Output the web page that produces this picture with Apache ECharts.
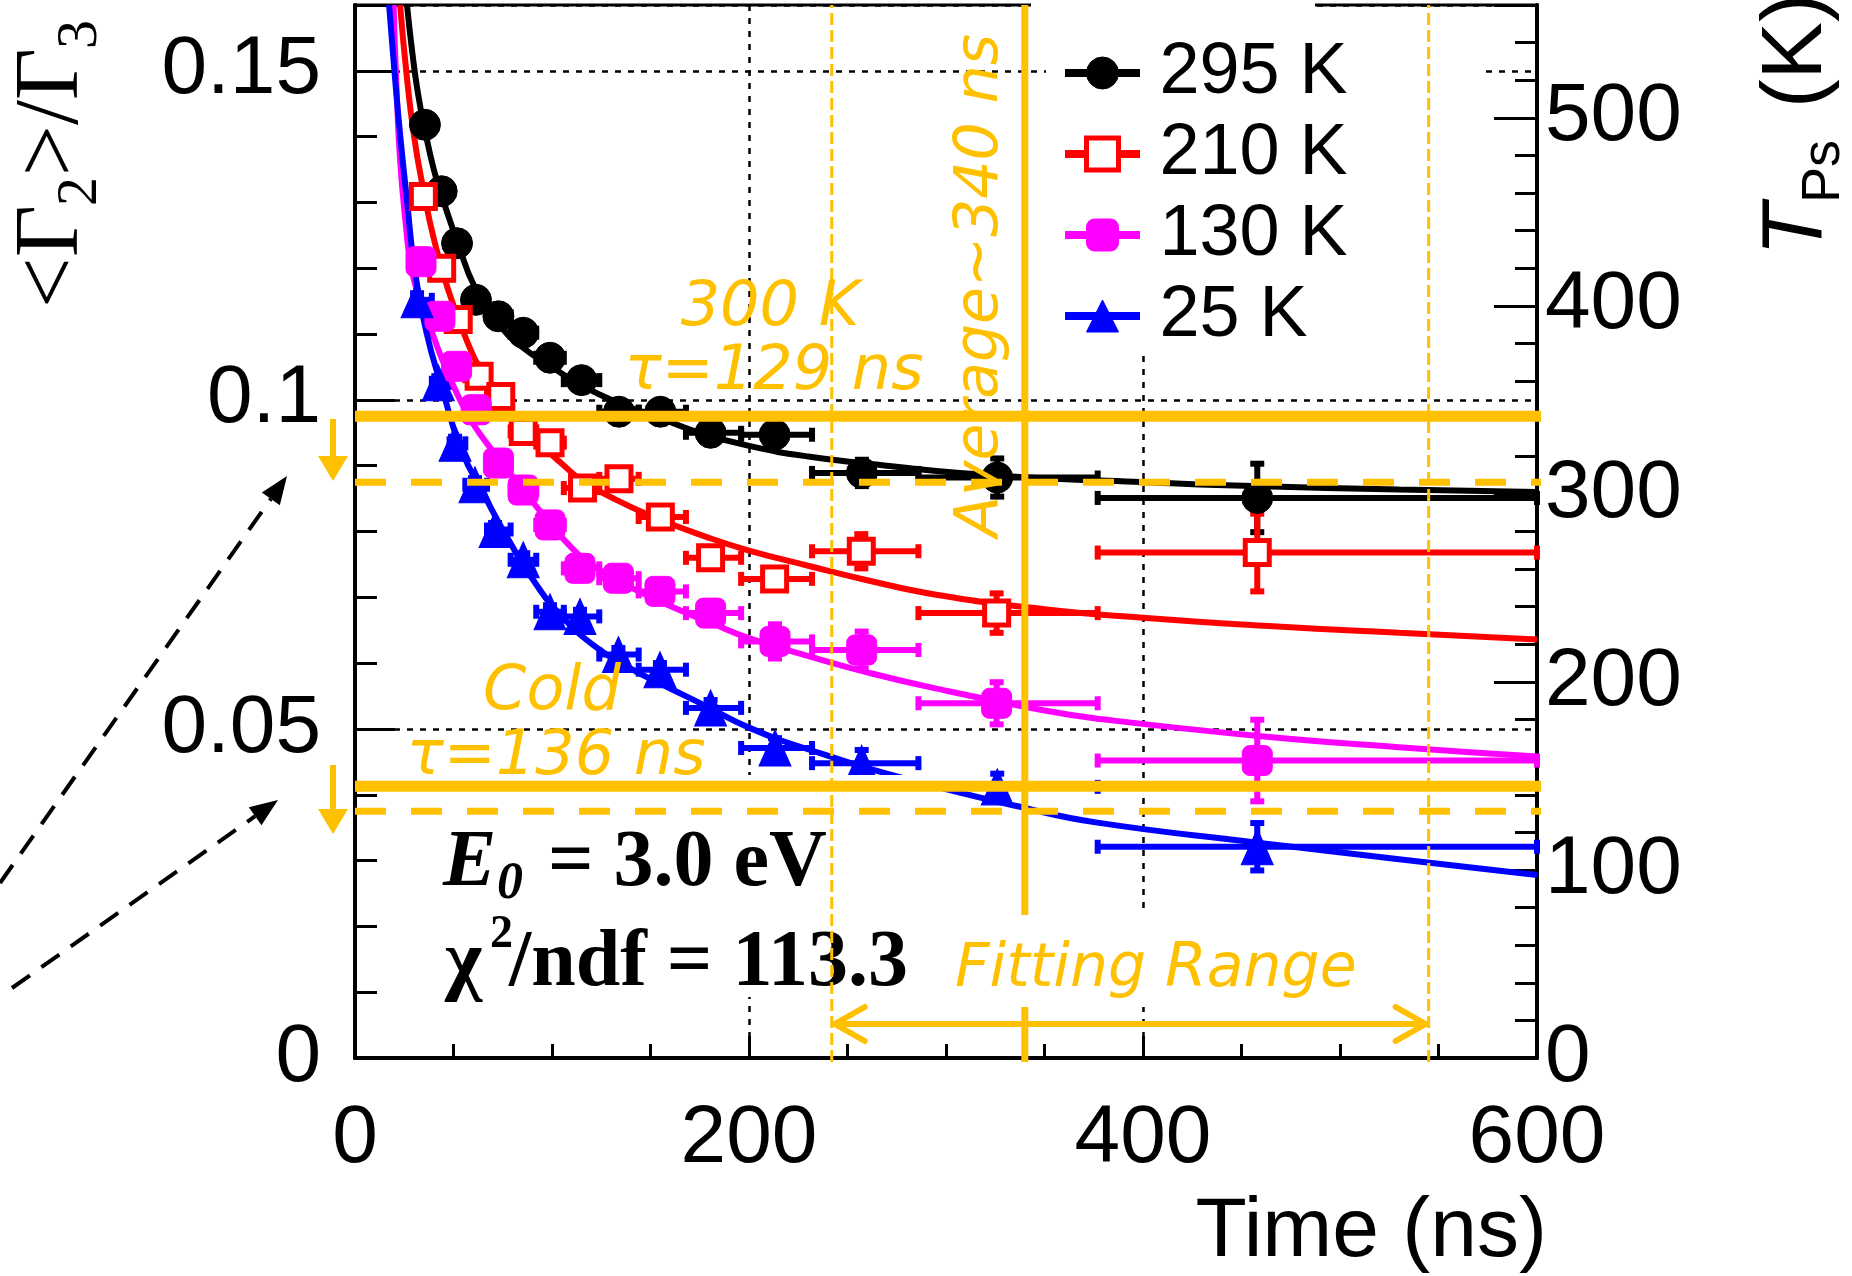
<!DOCTYPE html>
<html>
<head>
<meta charset="utf-8">
<title>Ps temperature vs time</title>
<script src="https://cdn.jsdelivr.net/npm/echarts@6.0.0/dist/echarts.min.js"></script>
<style>
  html, body { margin: 0; padding: 0; background: #ffffff; }
  #chart { width: 1852px; height: 1276px; }
</style>
</head>
<body>
<div id="chart"></div>
<script>
// time bins (ns), shared by every temperature
const binLow  = [31, 39, 48, 56, 67, 79, 92, 106, 124, 144, 168, 196, 232, 286, 377];
const binHigh = [39, 48, 56, 67, 79, 92, 106, 124, 144, 168, 196, 232, 286, 377, 600];

// measured <G2>/G3, one array per target temperature
const t295 = [35.5, 44, 51.8, 61.4, 72.8, 85.4, 99, 115, 134, 155, 180.5, 213, 257.3, 326, 458];
const y295 = [0.1418, 0.1317, 0.1238, 0.1152, 0.1127, 0.1102, 0.1064, 0.1030, 0.0982, 0.0982, 0.0950, 0.0947, 0.0889, 0.0882, 0.0851];
const e295 = [0.001, 0.001, 0.001, 0.001, 0.001, 0.001, 0.001, 0.001, 0.001, 0.001, 0.0012, 0.0015, 0.002, 0.0029, 0.0052];

const t210 = [34.7, 44, 52.4, 63, 74, 85.4, 99, 115.5, 134, 155, 180.5, 213, 257, 325.7, 458];
const y210 = [0.1309, 0.1200, 0.1122, 0.1036, 0.1005, 0.0952, 0.0935, 0.0866, 0.0880, 0.0822, 0.0760, 0.0728, 0.0770, 0.0676, 0.0768];
const e210 = [0.001, 0.001, 0.001, 0.001, 0.001, 0.001, 0.001, 0.001, 0.001, 0.0012, 0.0012, 0.0015, 0.0026, 0.003, 0.0059];

const t130 = [33.5, 43.1, 51.6, 61.5, 72.8, 85.4, 99, 114.2, 133.7, 154.8, 180.5, 213.2, 257.2, 325.7, 458];
const y130 = [0.1210, 0.1127, 0.1051, 0.0985, 0.0904, 0.0863, 0.0810, 0.0744, 0.0729, 0.0709, 0.0676, 0.0633, 0.0620, 0.0539, 0.0452];
const e130 = [0.001, 0.001, 0.001, 0.001, 0.001, 0.001, 0.001, 0.001, 0.001, 0.0012, 0.0015, 0.0026, 0.0028, 0.0032, 0.0062];

const t25 = [31.5, 42.3, 50.8, 60.9, 71.1, 85.4, 99, 114.2, 133.7, 154.8, 180.5, 213.2, 257.2, 326, 458];
const y25 = [0.1152, 0.1026, 0.0934, 0.0871, 0.0803, 0.0757, 0.0678, 0.0671, 0.0613, 0.0590, 0.0532, 0.0471, 0.0448, 0.0412, 0.0321];
const e25 = [0.001, 0.001, 0.001, 0.001, 0.001, 0.001, 0.001, 0.001, 0.001, 0.001, 0.0012, 0.0015, 0.002, 0.002, 0.0036];

// fitted curves
const fitT295 = [26.4, 29, 32, 35.5, 40, 44, 52, 61, 73, 85, 99, 115, 134, 155, 175, 200, 230, 276, 307, 350, 400, 456, 530, 600];
const fit295  = [0.160, 0.153, 0.1465, 0.1410, 0.1350, 0.1310, 0.1240, 0.1170, 0.1115, 0.1080, 0.1052, 0.1022, 0.0995, 0.0972, 0.0950, 0.0930, 0.0914, 0.0898, 0.0889, 0.0881, 0.0875, 0.0869, 0.0864, 0.0860];

const fitT210 = [22.9, 26, 30, 35, 40, 47, 57, 65, 75, 85, 95, 105, 115, 130, 150, 180, 200, 230, 260, 295, 350, 400, 466, 530, 600];
const fit210  = [0.160, 0.150, 0.140, 0.1315, 0.1245, 0.1170, 0.1088, 0.1040, 0.0995, 0.0960, 0.0930, 0.0903, 0.0878, 0.0852, 0.0824, 0.0790, 0.0771, 0.0748, 0.0726, 0.0704, 0.0682, 0.0669, 0.0656, 0.0646, 0.0636];

const fitT130 = [19.6, 21, 23, 26, 28, 31, 35.5, 40, 45.7, 55.8, 63, 76, 91, 110, 125, 142, 162, 180, 200, 231, 260, 294, 350, 376, 456, 530, 600];
const fit130  = [0.160, 0.148, 0.136, 0.126, 0.121, 0.117, 0.1132, 0.1095, 0.1051, 0.0985, 0.0950, 0.0899, 0.0842, 0.0775, 0.0740, 0.0712, 0.0684, 0.0662, 0.0638, 0.0610, 0.0586, 0.0562, 0.0528, 0.0516, 0.0490, 0.0472, 0.0458];

const fitT25 = [17.3, 20, 23, 26.5, 30, 36.4, 44, 54, 66, 78, 91.4, 105, 122, 139, 161, 178, 200, 231, 280, 340, 376, 456, 530, 600];
const fit25  = [0.160, 0.150, 0.140, 0.130, 0.1205, 0.1101, 0.1020, 0.0924, 0.0853, 0.0787, 0.0722, 0.0671, 0.0625, 0.0593, 0.0560, 0.0535, 0.0502, 0.0468, 0.0424, 0.0380, 0.0358, 0.0328, 0.0302, 0.0278];

// orange guide lines
const tauLevels = [0.0975, 0.0413];     // solid
const startLevels = [0.0875, 0.0375];   // dashed
const fitRange = [242, 545];
const avgTime = [340];

const ORANGE = '#ffc000';
const SANS = '"Liberation Sans", Arial, sans-serif';
const SERIF = '"Liberation Serif", "Times New Roman", serif';
const VERA = '"DejaVu Sans", Verdana, sans-serif';

const pairs = (xs, ys) => xs.map((x, i) => [x, ys[i]]);

function errorBars(color, t, y, e) {
    return {
        type: 'custom',
        silent: true,
        z: 2,
        data: t.map((tv, i) => [tv, y[i], binLow[i], binHigh[i], e[i]]),
        encode: {x: 0, y: 1},
        renderItem: function (params, api) {
            const tv = api.value(0), yv = api.value(1), ev = api.value(4);
            const lo = api.coord([api.value(2), yv]);
            const hi = api.coord([api.value(3), yv]);
            const top = api.coord([tv, yv + ev]);
            const bot = api.coord([tv, yv - ev]);
            const st = {stroke: color, lineWidth: 6, fill: null};
            const c = 7;
            return {
                type: 'group', children: [
                    {type: 'line', shape: {x1: lo[0], y1: lo[1], x2: hi[0], y2: hi[1]}, style: st},
                    {type: 'line', shape: {x1: lo[0], y1: lo[1] - c, x2: lo[0], y2: lo[1] + c}, style: st},
                    {type: 'line', shape: {x1: hi[0], y1: hi[1] - c, x2: hi[0], y2: hi[1] + c}, style: st},
                    {type: 'line', shape: {x1: top[0], y1: top[1], x2: bot[0], y2: bot[1]}, style: st},
                    {type: 'line', shape: {x1: top[0] - c, y1: top[1], x2: top[0] + c, y2: top[1]}, style: st},
                    {type: 'line', shape: {x1: bot[0] - c, y1: bot[1], x2: bot[0] + c, y2: bot[1]}, style: st}
                ]
            };
        }
    };
}

const groups = [
    {name: '295 K', color: '#000000', t: t295, y: y295, e: e295, ft: fitT295, fy: fit295,
        symbol: 'circle', size: 31, item: {color: '#000000', borderColor: '#000000', borderWidth: 1, opacity: 1}},
    {name: '210 K', color: '#ff0000', t: t210, y: y210, e: e210, ft: fitT210, fy: fit210,
        symbol: 'rect', size: 24, item: {color: '#ffffff', borderColor: '#ff0000', borderWidth: 5, opacity: 1}},
    {name: '130 K', color: '#ff00ff', t: t130, y: y130, e: e130, ft: fitT130, fy: fit130,
        symbol: 'roundRect', size: 30, item: {color: '#ff00ff', borderColor: '#ff00ff', borderWidth: 1, opacity: 1}},
    {name: '25 K', color: '#0000ff', t: t25, y: y25, e: e25, ft: fitT25, fy: fit25,
        symbol: 'triangle', size: [32, 36], item: {color: '#0000ff', borderColor: '#0000ff', borderWidth: 1, opacity: 1}}
];

const series = [];
groups.forEach(function (g) {
    series.push({
        type: 'line', name: g.name, data: pairs(g.ft, g.fy),
        smooth: 0.5, showSymbol: false, symbol: g.symbol,
        lineStyle: {color: g.color, width: 6}, itemStyle: g.item, z: 2, silent: true
    });
    series.push(errorBars(g.color, g.t, g.y, g.e));
    series.push({
        type: 'scatter', name: g.name + ' data', data: pairs(g.t, g.y),
        symbol: g.symbol, symbolSize: g.size, itemStyle: g.item, z: 3, silent: true
    });
});

function hLines(levels, width, dash) {
    return {
        type: 'custom', silent: true, z: 10,
        data: levels.map(v => [v]),
        renderItem: function (params, api) {
            const v = api.value(0);
            const a = api.coord([0, v]);
            const b = api.coord([600, v]);
            return {type: 'line', shape: {x1: a[0], y1: a[1], x2: b[0] + 4, y2: b[1]},
                style: {stroke: ORANGE, lineWidth: width, lineDash: dash, fill: null}};
        }
    };
}

function vLines(times, width, dash, z) {
    return {
        type: 'custom', silent: true, z: z,
        data: times.map(v => [v]),
        renderItem: function (params, api) {
            const v = api.value(0);
            const a = api.coord([v, 0]);
            const b = api.coord([v, 0.16]);
            return {type: 'line', shape: {x1: a[0], y1: a[1] + 4, x2: b[0], y2: b[1]},
                style: {stroke: ORANGE, lineWidth: width, lineDash: dash, fill: null}};
        }
    };
}

series.push(hLines(tauLevels, 11, null));
series.push(hLines(startLevels, 7, [31, 25]));
series.push(vLines(avgTime, 7, null, 3));
series.push(vLines(fitRange, 3, [12, 5], 10));

// double arrow of the fitting range
series.push({
    type: 'custom', silent: true, z: 10,
    data: [fitRange],
    renderItem: function (params, api) {
        const a = api.coord([api.value(0), 0]);
        const b = api.coord([api.value(1), 0]);
        const y = a[1] - 34;
        const st = {stroke: ORANGE, lineWidth: 6, fill: null, lineJoin: 'round', lineCap: 'round'};
        return {
            type: 'group', children: [
                {type: 'line', shape: {x1: a[0] + 3, y1: y, x2: b[0] - 3, y2: y}, style: st},
                {type: 'polyline', shape: {points: [[a[0] + 33, y - 17], [a[0] + 3, y], [a[0] + 33, y + 17]]}, style: st},
                {type: 'polyline', shape: {points: [[b[0] - 33, y - 17], [b[0] - 3, y], [b[0] - 33, y + 17]]}, style: st}
            ]
        };
    }
});

// dashed black pointer arrows left of the frame
function pointer(x0, y0, x1, y1) {
    const len = Math.hypot(x1 - x0, y1 - y0);
    const ux = (x1 - x0) / len, uy = (y1 - y0) / len;
    const bx = x1 - 28 * ux, by = y1 - 28 * uy;
    return [
        {type: 'line', z: 20, shape: {x1: x0, y1: y0, x2: bx, y2: by},
            style: {stroke: '#000', lineWidth: 4, lineDash: [22, 14]}},
        {type: 'polygon', z: 20, shape: {points: [[x1, y1], [bx - 11 * uy, by + 11 * ux], [bx + 11 * uy, by - 11 * ux]]},
            style: {fill: '#000'}}
    ];
}

function dropArrow(x, y0, y1) {
    return [
        {type: 'line', z: 20, shape: {x1: x, y1: y0, x2: x, y2: y1 - 20}, style: {stroke: ORANGE, lineWidth: 6}},
        {type: 'polygon', z: 20, shape: {points: [[x - 15, y1 - 25], [x + 15, y1 - 25], [x, y1]]}, style: {fill: ORANGE}}
    ];
}

function txt(x, y, text, size, extra) {
    return {type: 'text', x: x, y: y, z: 8, silent: true,
        style: Object.assign({text: text, fontSize: size, fontFamily: SANS, fill: '#000',
            textAlign: 'left', textVerticalAlign: 'middle'}, extra || {})};
}

const graphics = [
    // white pads behind the text boxes and legend
    {type: 'rect', z: 5, shape: {x: 440, y: 775, width: 495, height: 222}, style: {fill: '#fff'}},
    {type: 'rect', z: 5, shape: {x: 950, y: 915, width: 410, height: 92}, style: {fill: '#fff'}},
    {type: 'rect', z: 5, shape: {x: 1046, y: 14, width: 435, height: 341}, style: {fill: '#fff'}},
    {type: 'rect', z: 5, shape: {x: 1031, y: 0, width: 284, height: 14}, style: {fill: '#fff'}},

    // left title <G2>/G3
    {type: 'group', x: 53, y: 308, rotation: Math.PI / 2, children: [
        txt(0, 0, '<', 90, {fontFamily: SERIF}),
        txt(51, 0, 'Γ', 90, {fontFamily: SERIF}),
        txt(102, 28, '2', 58, {fontFamily: SERIF}),
        txt(132, 0, '>', 90, {fontFamily: SERIF}),
        txt(183, 0, '/', 90, {fontFamily: SERIF}),
        txt(208, 0, 'Γ', 90, {fontFamily: SERIF}),
        txt(259, 28, '3', 58, {fontFamily: SERIF})
    ]},

    // right title T_Ps (K)
    {type: 'group', x: 1797, y: 256, rotation: Math.PI / 2, children: [
        txt(0, 0, 'T', 86, {fontStyle: 'italic'}),
        txt(53, 27, 'Ps', 54),
        txt(124, 0, ' (K)', 86)
    ]},

    txt(1547, 1233, 'Time (ns)', 84, {textAlign: 'right'}),

    txt(443, 864, 'E', 80, {fontFamily: SERIF, fontWeight: 'bold', fontStyle: 'italic'}),
    txt(497, 885, '0', 52, {fontFamily: SERIF, fontWeight: 'bold', fontStyle: 'italic'}),
    txt(548, 864, '= 3.0 eV', 80, {fontFamily: SERIF, fontWeight: 'bold'}),
    txt(445, 964, 'χ', 80, {fontFamily: SERIF, fontWeight: 'bold'}),
    txt(490, 935, '2', 46, {fontFamily: SERIF, fontWeight: 'bold'}),
    txt(509, 964, '/ndf = 113.3', 80, {fontFamily: SERIF, fontWeight: 'bold'}),

    txt(770, 309, '300 K', 62, {fontFamily: VERA, fontStyle: 'italic', fill: ORANGE, textAlign: 'center'}),
    txt(774, 373, 'τ=129 ns', 62, {fontFamily: VERA, fontStyle: 'italic', fill: ORANGE, textAlign: 'center'}),
    txt(552, 693, 'Cold', 62, {fontFamily: VERA, fontStyle: 'italic', fill: ORANGE, textAlign: 'center'}),
    txt(556, 758, 'τ=136 ns', 62, {fontFamily: VERA, fontStyle: 'italic', fill: ORANGE, textAlign: 'center'}),
    txt(955, 970, 'Fitting Range', 60, {fontFamily: VERA, fontStyle: 'italic', fill: ORANGE}),
    Object.assign(txt(981, 537, 'Average~340 ns', 60, {fontFamily: VERA, fontStyle: 'italic', fill: ORANGE}),
        {rotation: Math.PI / 2, z: 12})
].concat(
    pointer(0, 883, 287, 476),
    pointer(12, 988, 278, 800),
    dropArrow(333, 419, 481),
    dropArrow(333, 765, 834)
);

const chart = echarts.init(document.getElementById('chart'));
chart.setOption({
    animation: false,
    backgroundColor: '#ffffff',
    grid: {left: 355, right: 315, top: 5, bottom: 218, show: true,
        borderColor: '#000', borderWidth: 3, backgroundColor: 'transparent'},
    legend: {
        orient: 'vertical', left: 1061, top: 37, padding: 0, z: 6,
        itemWidth: 75, itemHeight: 40, itemGap: 9,
        formatter: name => '\u2009' + name,
        textStyle: {fontSize: 72, lineHeight: 72, fontFamily: SANS, color: '#000'},
        data: groups.map(g => ({name: g.name, itemStyle: g.item,
            lineStyle: {color: g.color, width: 8}}))
    },
    xAxis: {
        type: 'value', min: 0, max: 600, interval: 200,
        axisLine: {onZero: false, lineStyle: {color: '#000', width: 4}},
        axisTick: {inside: true, length: 22, lineStyle: {color: '#000', width: 3}},
        minorTick: {show: true, splitNumber: 4, length: 14, lineStyle: {color: '#000', width: 3}},
        splitLine: {show: true, lineStyle: {color: '#000', width: 2.5, type: [6, 7]}},
        axisLabel: {color: '#000', fontFamily: SANS, fontSize: 82, margin: 40}
    },
    yAxis: [{
        type: 'value', min: 0, max: 0.16, interval: 0.05, position: 'left',
        axisLine: {show: true, onZero: false, lineStyle: {color: '#000', width: 4}},
        axisTick: {show: true, inside: true, length: 40, lineStyle: {color: '#000', width: 3}},
        minorTick: {show: true, splitNumber: 5, length: 22, lineStyle: {color: '#000', width: 3}},
        splitLine: {show: true, lineStyle: {color: '#000', width: 2.5, type: [6, 7]}},
        axisLabel: {color: '#000', fontFamily: SANS, fontSize: 82, margin: 34, showMaxLabel: false}
    }, {
        type: 'value', min: 0, max: 560, interval: 100, position: 'right',
        axisLine: {show: true, onZero: false, lineStyle: {color: '#000', width: 4}},
        axisTick: {show: true, inside: true, length: 43, lineStyle: {color: '#000', width: 3}},
        minorTick: {show: true, splitNumber: 5, length: 22, lineStyle: {color: '#000', width: 3}},
        splitLine: {show: false},
        axisLabel: {color: '#000', fontFamily: SANS, fontSize: 82, margin: 8, showMaxLabel: false}
    }],
    graphic: {elements: graphics},
    series: series
});
</script>
</body>
</html>
